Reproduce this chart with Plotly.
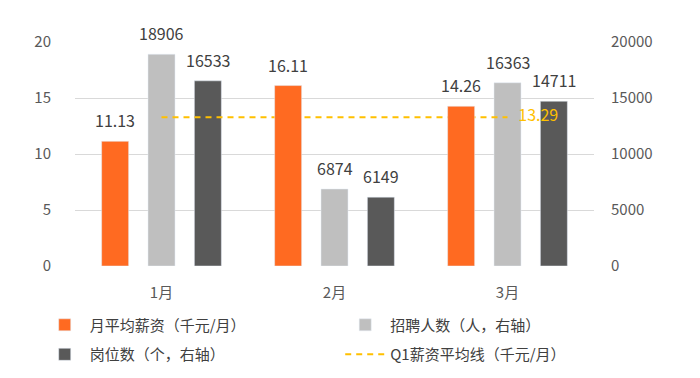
import plotly.graph_objects as go

months = ["1月", "2月", "3月"]
salary = [11.13, 16.11, 14.26]          # 千元/月, left axis
hires = [18906, 6874, 16363]            # 人, right axis
posts = [16533, 6149, 14711]            # 个, right axis
q1_avg = 13.29

salary_name = "月平均薪资（千元/月）"
hires_name = "招聘人数（人，右轴）"
posts_name = "岗位数（个，右轴）"
avg_name = "Q1薪资平均线（千元/月）"

c_orange = "#FF6A21"
c_grey = "#BFBFBF"
c_dark = "#595959"
c_gold = "#FFC000"
txt = "#404040"
tick = "#595959"
FONT = "Noto Sans CJK SC, Noto Sans, sans-serif"

# the page body adds an 8px offset, so the figure is slightly smaller
W, H = 692, 370
ML, MR, MT, MB = 67, 106, 34, 112
cat_px = (W - ML - MR) / len(months)
bw = 0.156
step = 0.268
offs = [-step, 0.0, step]

fig = go.Figure()
# grey / dark bars on base subplot (right axis, 0-20000)
fig.add_trace(go.Bar(x=months, y=hires, name=hires_name, marker_color=c_grey,
                     width=bw, offset=offs[1] - bw / 2, yaxis="y",
                     legend="legend2", legendgroup="g2", legendrank=1))
fig.add_trace(go.Bar(x=months, y=posts, name=posts_name, marker_color=c_dark,
                     width=bw, offset=offs[2] - bw / 2, yaxis="y",
                     legend="legend", legendgroup="g3", legendrank=2))
# average line on y2 (left axis)
fig.add_trace(go.Scatter(x=months, y=[q1_avg] * len(months), name=avg_name,
                         mode="lines+text", yaxis="y2",
                         line=dict(color=c_gold, width=2, dash="6px,5px"),
                         text=["", "", f"   {q1_avg:.2f}"], textposition="middle right",
                         textfont=dict(color=c_gold, size=16, family=FONT),
                         cliponaxis=False, legend="legend2", legendgroup="g4",
                         legendrank=2))
# orange bars on y3 (top layer)
fig.add_trace(go.Bar(x=months, y=salary, name=salary_name, marker_color=c_orange,
                     width=bw, offset=offs[0] - bw / 2, yaxis="y3",
                     legend="legend", legendgroup="g1", legendrank=1))

# data labels
series = [(salary, "y3", offs[0], lambda v: f"{v:.2f}"),
          (hires, "y", offs[1], lambda v: f"{v}"),
          (posts, "y", offs[2], lambda v: f"{v}")]
for vals, yref, off, fmt in series:
    for m, v in zip(months, vals):
        fig.add_annotation(x=m, y=v, xref="x", yref=yref, text=fmt(v),
                           showarrow=False, yanchor="bottom", xanchor="center",
                           xshift=off * cat_px, yshift=7,
                           font=dict(size=16, color=txt, family=FONT))

leg_common = dict(orientation="v", y=-0.19, yanchor="top", xanchor="left",
                  itemwidth=40, tracegroupgap=7, traceorder="grouped",
                  bgcolor="rgba(0,0,0,0)",
                  font=dict(size=15, color=txt, family=FONT))

fig.update_layout(
    width=W, height=H,
    margin=dict(l=ML, r=MR, t=MT, b=MB, autoexpand=False),
    paper_bgcolor="white", plot_bgcolor="white",
    barmode="overlay",
    font=dict(family=FONT, color=tick, size=15),
    showlegend=True,
    legend=dict(x=-0.068, **leg_common),
    legend2=dict(x=0.511, **leg_common),
    xaxis=dict(showgrid=False, zeroline=False, showline=False, ticks="",
               ticklabelstandoff=16, tickfont=dict(size=15, color=tick)),
    yaxis=dict(side="right", range=[0, 20000], tick0=0, dtick=5000, tickformat="d",
               showgrid=True, gridcolor="#D9D9D9", gridwidth=1, zeroline=False,
               showline=False, ticks="", ticklabelstandoff=16,
               tickfont=dict(size=15, color=tick)),
    yaxis2=dict(overlaying="y", side="left", range=[0, 20], tick0=0, dtick=5,
                showgrid=False, zeroline=False, showline=False, ticks="",
                ticklabelstandoff=23, tickfont=dict(size=15, color=tick)),
    yaxis3=dict(overlaying="y", range=[0, 20], visible=False,
                showgrid=False, zeroline=False),
)

fig.write_html("out.html")
